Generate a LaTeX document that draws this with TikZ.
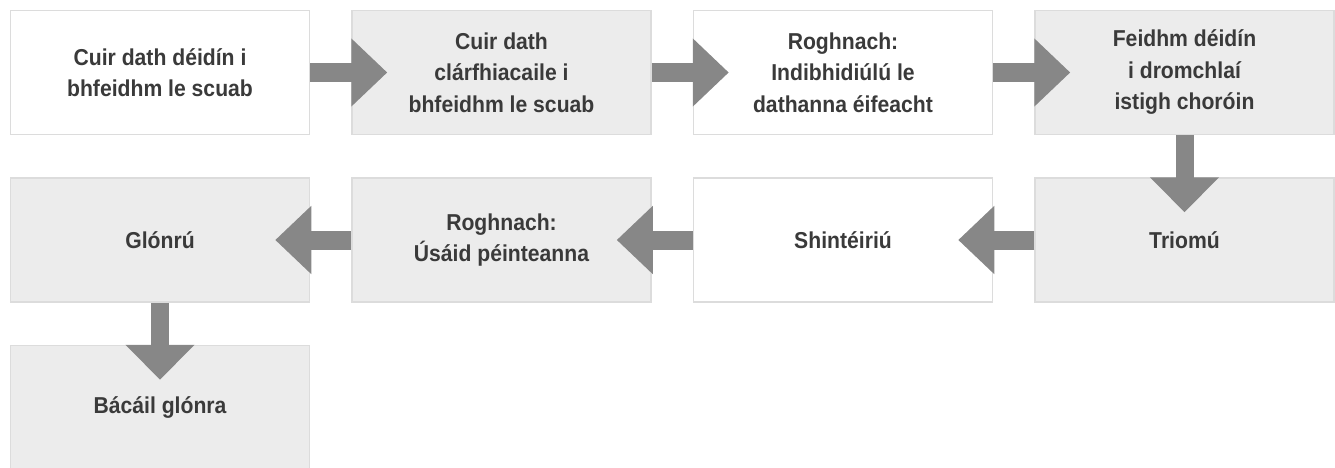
\documentclass[tikz,border=0pt]{standalone}
\usepackage{fontspec}
\setmainfont{Liberation Sans}[FakeStretch=0.92]
\usepackage{xcolor}
\usepackage{tikz}
\usetikzlibrary{arrows.meta, positioning}

\definecolor{boxline}{HTML}{DCDCDC}
\definecolor{boxfill}{HTML}{ECECEC}
\definecolor{flowgray}{HTML}{878787}
\definecolor{txtgray}{HTML}{3A3A3A}

\begin{document}
\begin{tikzpicture}[
    node distance=42pt and 41pt,
    stepbox/.style={draw=boxline, line width=1.5pt, minimum width=299pt, minimum height=124pt, align=center, font=\fontsize{23}{31.5}\selectfont\bfseries, text=txtgray},
    plain/.style={stepbox, fill=white},
    shaded/.style={stepbox, fill=boxfill},
    flowh/.style={line width=19pt, flowgray, -{Triangle[length=36pt, width=66pt]}},
    flowv/.style={line width=18pt, flowgray, -{Triangle[length=35pt, width=67pt]}},
]
\useasboundingbox (0pt,0pt) rectangle (1335pt,-468pt);

% row 1
\node[plain] (brush) at (160pt,-72.5pt) {Cuir dath déidín i\\bhfeidhm le scuab};
\node[shaded, right=of brush] (varnish) {Cuir dath\\clárfhiacaile i\\bhfeidhm le scuab};
\node[plain, right=of varnish] (effect) {Roghnach:\\Indibhidiúlú le\\dathanna éifeacht};
\node[shaded, right=of effect] (inside) {Feidhm déidín\\i dromchlaí\\istigh choróin};

% row 2
\node[shaded, below=of inside] (trim) {Triomú};
\node[plain, left=of trim] (sinter) {Shintéiriú};
\node[shaded, left=of sinter] (paint) {Roghnach:\\Úsáid péinteanna};
\node[shaded, left=of paint] (glaze) {Glónrú};

% row 3
\node[shaded, below=of glaze] (bake) {Bácáil glónra};

\draw[flowh] (brush.east) -- ([xshift=36pt]varnish.west);
\draw[flowh] (varnish.east) -- ([xshift=36pt]effect.west);
\draw[flowh] (effect.east) -- ([xshift=36pt]inside.west);
\draw[flowv] (inside.south) -- ([yshift=-35pt]trim.north);
\draw[flowh] (trim.west) -- ([xshift=-35pt]sinter.east);
\draw[flowh] (sinter.west) -- ([xshift=-35pt]paint.east);
\draw[flowh] (paint.west) -- ([xshift=-35pt]glaze.east);
\draw[flowv] (glaze.south) -- ([yshift=-35pt]bake.north);
\end{tikzpicture}
\end{document}
